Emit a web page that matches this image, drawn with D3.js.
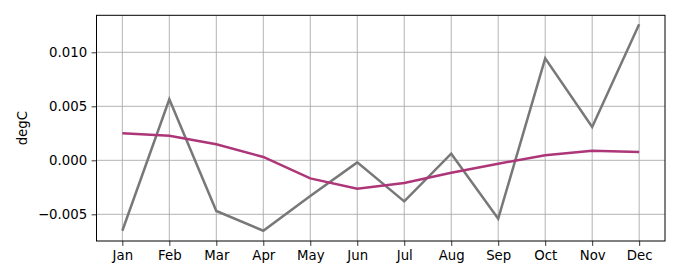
<!DOCTYPE html>
<html><head><meta charset="utf-8">
<script src="https://cdn.jsdelivr.net/npm/d3@7"></script>
<style>body{margin:0;background:#fff}svg{display:block}text{font-family:"DejaVu Sans",sans-serif}</style>
</head><body><svg id="c" width="680" height="280"></svg>
<script>
const months = ["Jan","Feb","Mar","Apr","May","Jun","Jul","Aug","Sep","Oct","Nov","Dec"];
const anomaly = [-0.00652,0.00565,-0.00469,-0.00652,-0.00331,-0.00019,-0.0038,0.00061,-0.0054,0.00944,0.00308,0.01259];
const smooth = [0.0025,0.00228,0.00148,0.00031,-0.00167,-0.00263,-0.0021,-0.00115,-0.00031,0.00046,0.00089,0.00077];
const yTicks = [-0.005,0.000,0.005,0.010];
const yLabel = "degC";

const L=96.5,R=665,T=15.3,B=241;
const svg=d3.select("#c");
const x=d3.scalePoint().domain(months).range([L,R]).padding(0.55);
const y=d3.scaleLinear().domain([-0.00747,0.013426]).range([B,T]);
const fmt=v=>{const s=v.toFixed(3);return v<0?"\u2212"+s.slice(1):s;};

const g=svg.append("g");
// grid
g.selectAll(".gx").data(months).enter().append("line")
 .attr("x1",d=>x(d)).attr("x2",d=>x(d)).attr("y1",T).attr("y2",B)
 .attr("stroke","#aaaaaa").attr("stroke-width",0.9);
g.selectAll(".gy").data(yTicks).enter().append("line")
 .attr("x1",L).attr("x2",R).attr("y1",d=>y(d)).attr("y2",d=>y(d))
 .attr("stroke","#aaaaaa").attr("stroke-width",0.9);

const line=d3.line().x((d,i)=>x(months[i])).y(d=>y(d));
g.append("path").datum(anomaly).attr("d",line).attr("fill","none")
 .attr("stroke","#787878").attr("stroke-width",2.5).attr("stroke-linejoin","miter");
g.append("path").datum(smooth).attr("d",line).attr("fill","none")
 .attr("stroke","#ad3678").attr("stroke-width",2.5);

// axes
const xa=svg.append("g").attr("transform",`translate(0,${B})`)
 .call(d3.axisBottom(x).tickSize(4.9).tickPadding(4.5));
const ya=svg.append("g").attr("transform",`translate(${L},0)`)
 .call(d3.axisLeft(y).tickValues(yTicks).tickFormat(fmt).tickSize(4.9).tickPadding(4.5));
[xa,ya].forEach(a=>{a.select(".domain").remove();
 a.selectAll("line").attr("stroke","#000").attr("stroke-width",0.8);
 a.selectAll("text").attr("fill","#000").style("font-size","13.3px").style("font-family","'DejaVu Sans',sans-serif");});
svg.append("rect").attr("x",L).attr("y",T).attr("width",R-L).attr("height",B-T)
 .attr("fill","none").attr("stroke","#000").attr("stroke-width",1);
svg.append("text").attr("transform",`translate(27,${(T+B)/2}) rotate(-90)`)
 .attr("text-anchor","middle").style("font-size","13.3px").text(yLabel);
</script></body></html>
